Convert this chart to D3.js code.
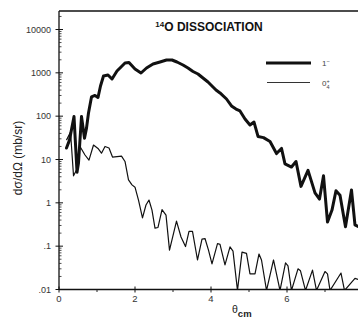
<!DOCTYPE html>
<html><head><meta charset="utf-8">
<script src="https://cdn.jsdelivr.net/npm/d3@7"></script>
<style>html,body{margin:0;padding:0;background:#fff;}svg{display:block;}</style>
</head><body><div id="chart"></div>
<script>
// thick curve (1-)
const thetaThick = [0.197,0.276,0.395,0.474,0.513,0.592,0.671,0.724,0.776,0.855,0.947,1.026,1.092,1.171,1.289,1.395,1.526,1.632,1.737,1.842,2.0,2.158,2.303,2.474,2.658,2.829,2.974,3.105,3.263,3.395,3.526,3.658,3.789,3.921,4.026,4.132,4.237,4.408,4.539,4.658,4.763,4.895,5.026,5.132,5.237,5.382,5.553,5.724,5.855,5.947,6.118,6.237,6.368,6.553,6.737,6.855,6.961,7.066,7.184,7.289,7.395,7.539,7.697,7.789,7.882];
const sigmaThick = [18.4,28,98,5.1,8.3,98,31,53,118,277,300,270,497,845,891,720,1100,1364,1687,1731,1226,991,1292,1600,1778,1977,1977,1778,1517,1292,1074,940,760,614,497,402,343,249,172,146,132,86,62.5,73,34,32,26,13.7,18,7.9,6.7,9.0,2.4,5.6,1.7,1.22,4.2,0.36,0.68,1.9,1.5,0.28,1.98,0.31,0.28];
// thin curve (0+4)
const thetaThin = [0.197,0.303,0.382,0.461,0.553,0.684,0.789,0.908,1.026,1.118,1.211,1.316,1.408,1.645,1.737,1.829,1.921,2.0,2.092,2.197,2.289,2.368,2.447,2.526,2.605,2.711,2.816,2.908,3.092,3.211,3.329,3.421,3.513,3.645,3.763,3.842,3.934,4.026,4.171,4.237,4.368,4.5,4.579,4.697,4.816,4.934,5.026,5.158,5.263,5.329,5.461,5.645,5.816,5.961,6.026,6.118,6.289,6.355,6.487,6.671,6.776,7.0,7.066,7.132,7.421,7.513,7.789,7.882];
const sigmaThin = [28,43,4.2,5.7,20,12.7,9.7,21.6,18,14,20,18.4,11.4,12,9.0,3.4,2.6,2.3,1.16,0.45,0.89,1.16,0.68,0.26,0.27,0.70,0.52,0.081,0.38,0.163,0.098,0.22,0.22,0.048,0.146,0.15,0.081,0.039,0.115,0.11,0.037,0.096,0.077,0.0095,0.073,0.068,0.023,0.023,0.066,0.048,0.0095,0.048,0.0095,0.041,0.035,0.0095,0.030,0.027,0.0095,0.028,0.0095,0.026,0.023,0.0095,0.024,0.0095,0.018,0.017];
const yTickValues = [0.01,0.1,1,10,100,1000,10000];
const yTickLabels = [".01",".1","1","10","100","1000","10000"];
const xTickValues = [0,2,4,6];
const xTickLabels = ["0","2","4","6"];

const W = 358, H = 322;
const svg = d3.select("#chart").append("svg").attr("width", W).attr("height", H);
const x = d3.scaleLinear().domain([0, 8]).range([59, 363]);
const y = d3.scaleLog().domain([0.01, 10000]).range([289.5, 29.5]);
const topY = 11;

svg.append("defs").append("clipPath").attr("id","clip")
  .append("rect").attr("x", 59).attr("y", topY).attr("width", W - 59).attr("height", y(0.01) - topY);

const font = "Liberation Sans, Arial, Helvetica, sans-serif";

// frame
svg.append("line").attr("x1",59).attr("x2",W).attr("y1",topY).attr("y2",topY).attr("stroke","#111").attr("stroke-width",1.3);
svg.append("line").attr("x1",59).attr("x2",59).attr("y1",topY).attr("y2",y(0.01)).attr("stroke","#111").attr("stroke-width",1.3);
svg.append("line").attr("x1",59).attr("x2",W).attr("y1",y(0.01)).attr("y2",y(0.01)).attr("stroke","#111").attr("stroke-width",1.3);

// y ticks
const minor = [];
for (let e = -2; e <= 4; e++) for (let m = 2; m <= 9; m++) { const v = m * Math.pow(10, e); if (y(v) > topY) minor.push(v); }
svg.selectAll(".ymin").data(minor).enter().append("line")
  .attr("x1",59).attr("x2",61.5).attr("y1",d=>y(d)).attr("y2",d=>y(d)).attr("stroke","#222").attr("stroke-width",0.8);
svg.selectAll(".ymaj").data(yTickValues).enter().append("line")
  .attr("x1",55.5).attr("x2",63).attr("y1",d=>y(d)).attr("y2",d=>y(d)).attr("stroke","#111").attr("stroke-width",1);
svg.selectAll(".ylab").data(yTickValues).enter().append("text")
  .attr("x",51).attr("y",d=>y(d)+3).attr("text-anchor","end")
  .attr("font-family",font).attr("font-size",9).attr("fill","#333")
  .text((d,i)=>yTickLabels[i]);

// x ticks
const xmin = [1,3,5,7];
svg.selectAll(".xmin").data(xmin).enter().append("line")
  .attr("x1",d=>x(d)).attr("x2",d=>x(d)).attr("y1",y(0.01)).attr("y2",y(0.01)+2.5).attr("stroke","#222").attr("stroke-width",1);
svg.selectAll(".xmaj").data(xTickValues).enter().append("line")
  .attr("x1",d=>x(d)).attr("x2",d=>x(d)).attr("y1",y(0.01)-3).attr("y2",y(0.01)+3).attr("stroke","#111").attr("stroke-width",1);
svg.selectAll(".xlab").data(xTickValues).enter().append("text")
  .attr("x",d=>x(d)).attr("y",y(0.01)+12).attr("text-anchor","middle")
  .attr("font-family",font).attr("font-size",9.5).attr("fill","#333")
  .text((d,i)=>xTickLabels[i]);

// curves
const line = d3.line().x(d=>x(d[0])).y(d=>y(d[1]));
const g = svg.append("g").attr("clip-path","url(#clip)");
g.append("path").datum(thetaThin.map((t,i)=>[t,sigmaThin[i]]))
  .attr("d",line).attr("fill","none").attr("stroke","#111").attr("stroke-width",1.2).attr("stroke-linejoin","round");
g.append("path").datum(thetaThick.map((t,i)=>[t,sigmaThick[i]]))
  .attr("d",line).attr("fill","none").attr("stroke","#111").attr("stroke-width",3).attr("stroke-linejoin","round").attr("stroke-linecap","round");

// title
const title = svg.append("text").attr("x",209).attr("y",31).attr("text-anchor","middle")
  .attr("font-family",font).attr("font-weight","bold").attr("font-size",12).attr("fill","#111");
title.append("tspan").attr("font-size",8).attr("dy",-4).text("14");
title.append("tspan").attr("dy",4).text("O DISSOCIATION");

// legend
svg.append("line").attr("x1",266).attr("x2",311).attr("y1",63).attr("y2",63).attr("stroke","#111").attr("stroke-width",3);
svg.append("line").attr("x1",267).attr("x2",310).attr("y1",82.5).attr("y2",82.5).attr("stroke","#333").attr("stroke-width",1.2);
const l1 = svg.append("text").attr("x",322).attr("y",66).attr("font-family",font).attr("font-size",8).attr("fill","#444");
l1.append("tspan").text("1");
l1.append("tspan").attr("font-size",5.5).attr("dy",-3).text("−");
const l2 = svg.append("text").attr("x",322).attr("y",86).attr("font-family",font).attr("font-size",8).attr("fill","#444");
l2.append("tspan").text("0");
l2.append("tspan").attr("font-size",5.5).attr("dy",-3).text("+");
l2.append("tspan").attr("font-size",5.5).attr("dx",-3.2).attr("dy",6).text("4");

// axis labels
svg.append("text").attr("transform","translate(22,158) rotate(-90)").attr("text-anchor","middle")
  .attr("font-family",font).attr("font-size",12).attr("fill","#222").text("dσ/dΩ (mb/sr)");
const xl = svg.append("text").attr("x",232).attr("y",313).attr("font-family",font).attr("font-size",10.5).attr("fill","#222");
xl.append("tspan").text("θ");
xl.append("tspan").attr("font-weight","bold").attr("font-size",9.5).attr("dy",4).text("cm");
</script></body></html>
